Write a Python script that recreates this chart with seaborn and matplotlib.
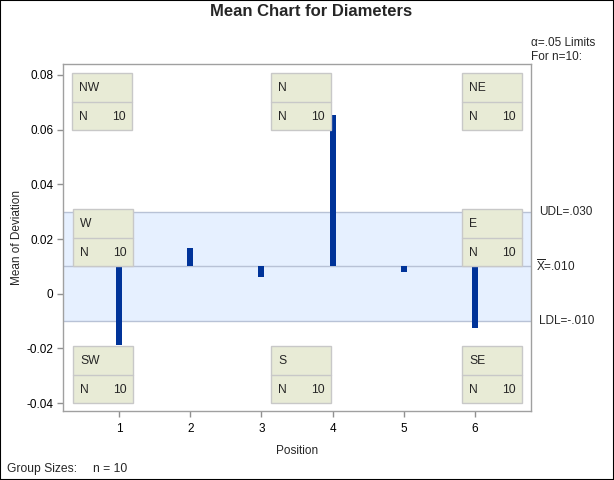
import matplotlib
matplotlib.use("Agg")
import matplotlib.pyplot as plt
import matplotlib.transforms as mtransforms
from matplotlib.patches import Rectangle
import seaborn as sns
import pandas as pd

# ---- data ----
positions = [1, 2, 3, 4, 5, 6]
means = [-0.0189, 0.0166, 0.0062, 0.0652, 0.0078, -0.0127]
center = 0.010
udl = 0.030
ldl = -0.010
group_n = 10
box_labels = ["NW", "N", "NE", "W", "E", "SW", "S", "SE"]
yticks = [-0.04, -0.02, 0, 0.02, 0.04, 0.06, 0.08]

sns.set_style("white")
plt.rcParams["font.family"] = ["Liberation Sans", "DejaVu Sans"]
plt.rcParams["axes.unicode_minus"] = False
plt.rcParams["mathtext.fontset"] = "custom"
plt.rcParams["mathtext.rm"] = "Liberation Sans"

W, H = 614, 480
fig = plt.figure(figsize=(W / 100, H / 100), dpi=100)
L, R, T, B = 63, 531, 64, 411
ax = fig.add_axes([L / W, 1 - B / H, (R - L) / W, (B - T) / H])

# band and lines
ax.axhspan(ldl, udl, color="#E6F0FF", zorder=0, lw=0)
for v in (ldl, center, udl):
    ax.axhline(v, color="#B8C2D6", lw=1, zorder=1)

df = pd.DataFrame({"Position": positions,
                   "height": [m - center for m in means]})
sns.barplot(data=df, x="Position", y="height", bottom=center,
            native_scale=True, width=0.085, color="#003399",
            saturation=1, ax=ax, zorder=2, linewidth=0)

ax.set_xlim(0.213, 6.787)
ax.set_ylim(-0.0429, 0.084)
ax.set_xticks(positions)
ax.set_xticklabels([str(p) for p in positions])
ax.set_yticks(yticks)
ax.set_yticklabels(["0" if v == 0 else f"{v:.2f}" for v in yticks])
ax.tick_params(axis="both", which="both", direction="out", length=4,
               width=1, color="#909090", labelsize=8.5, labelcolor="black",
               bottom=True, left=True)
ax.tick_params(axis="x", pad=5)
ax.tick_params(axis="y", pad=3)
for s in ax.spines.values():
    s.set_color("#A0A0A0")
    s.set_linewidth(1)
ax.set_xlabel("Position", fontsize=8.5, labelpad=7)
ax.set_ylabel("Mean of Deviation", fontsize=8.5, labelpad=2)

# inset boxes (pixel positions of top-left corners)
aw, ah = R - L, B - T
box_pos = {"NW": (72, 73), "N": (271, 73), "NE": (462, 73),
           "W": (73, 209), "E": (462, 209),
           "SW": (73, 346), "S": (271, 346), "SE": (462, 346)}
bw, bh, bdiv = 60, 57, 29
for lab in box_labels:
    px, py = box_pos[lab]
    x0 = (px - L) / aw
    y_top = (B - py) / ah
    w = bw / aw
    h = bh / ah
    rect = Rectangle((x0, y_top - h), w, h, transform=ax.transAxes,
                     facecolor="#E8EBD6", edgecolor="#C8C8C8", lw=1,
                     zorder=5, clip_on=False)
    ax.add_patch(rect)
    ydiv = y_top - bdiv / ah
    ax.plot([x0, x0 + w], [ydiv, ydiv], transform=ax.transAxes,
            color="#C8C8C8", lw=1, zorder=6, clip_on=False)
    ax.text(x0 + 7 / aw, y_top - 15 / ah, lab, transform=ax.transAxes,
            ha="left", va="center", fontsize=8.75, zorder=7)
    ax.text(x0 + 7 / aw, y_top - 44 / ah, "N", transform=ax.transAxes,
            ha="left", va="center", fontsize=8.75, zorder=7)
    ax.text(x0 + 54 / aw, y_top - 44 / ah, str(group_n),
            transform=ax.transAxes, ha="right", va="center",
            fontsize=8.75, zorder=7)

# right side labels
trans = mtransforms.blended_transform_factory(ax.transAxes, ax.transData)
xr = (539 - L) / aw
ax.text(xr, udl, f"UDL={udl:.3f}".replace("0.", "."), transform=trans,
        ha="left", va="center", fontsize=8.5)
ax.text((536 - L) / aw, center,
        r"$\overline{\mathrm{X}}$" + f"={center:.3f}".replace("0.", "."),
        transform=trans, ha="left", va="center", fontsize=8.5)
ax.text(xr, ldl, "LDL=-.010", transform=trans,
        ha="left", va="center", fontsize=8.5)

fig.text(531 / W, 1 - 43 / H, "α=.05 Limits", ha="left", va="center",
         fontsize=8.5)
fig.text(531 / W, 1 - 57 / H, "For n=10:", ha="left", va="center",
         fontsize=8.5)

fig.text(311 / W, 1 - 11 / H, "Mean Chart for Diameters", ha="center",
         va="center", fontsize=12, fontweight="bold")
fig.text(7 / W, 1 - 469 / H, "Group Sizes:", ha="left", va="center",
         fontsize=8.75)
fig.text(93 / W, 1 - 469 / H, f"n = {group_n}", ha="left", va="center",
         fontsize=8.75)

fig.patches.append(Rectangle((0, 0), 1, 1, transform=fig.transFigure,
                             fill=False, edgecolor="black", lw=1.5))

fig.savefig("out.png", dpi=100)
